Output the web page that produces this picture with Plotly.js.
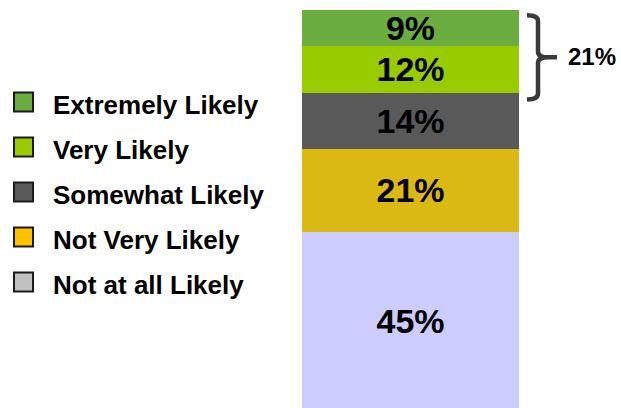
<!DOCTYPE html>
<html><head><meta charset="utf-8">
<script src="https://cdn.plot.ly/plotly-3.0.1.min.js"></script>
<style>html,body{margin:0;padding:0;background:#fff}#chart{width:621px;height:408px}</style>
</head><body><div id="chart"></div>
<script>
// Data (bottom to top of the stack)
const categories = ['Not at all Likely','Not Very Likely','Somewhat Likely','Very Likely','Extremely Likely'];
const values = [45, 21, 14, 12, 9];
const barColors = ['#CCCCFF', '#DBB914', '#595959', '#99CC00', '#6BAD3F'];
const legendColors = ['#C0C0C0', '#FFC000', '#595959', '#99CC00', '#6BAD3F'];
const barCategory = ['Likelihood'];

const W = 621, H = 408;
const px = x => x / W;
const py = y => 1 - y / H;

const traces = categories.map((c, i) => ({
  type: 'bar',
  name: c,
  x: barCategory,
  y: [values[i]],
  width: 1,
  marker: {color: barColors[i], line: {width: 0}},
  text: ['<b>' + values[i] + '%</b>'],
  textposition: 'inside',
  insidetextanchor: 'middle',
  constraintext: 'none',
  textfont: {family: 'Liberation Sans, Arial, sans-serif', size: 34, color: '#000'},
  hoverinfo: 'skip',
  showlegend: false
}));

const total = values.reduce((a, b) => a + b, 0);
const topTwo = values[3] + values[4];

// legend (manual, legend swatches differ from bar colours)
const shapes = [];
const annotations = [];
const legendOrder = [4, 3, 2, 1, 0];
legendOrder.forEach((idx, k) => {
  const cy = 102 + 45 * k;
  shapes.push({type: 'rect', xref: 'paper', yref: 'paper',
    x0: px(14), x1: px(33), y0: py(cy - 9.5), y1: py(cy + 9.5),
    fillcolor: legendColors[idx], line: {color: '#1a1a1a', width: 2}});
  annotations.push({xref: 'paper', yref: 'paper', x: px(51), y: py(cy + 3),
    xanchor: 'left', yanchor: 'middle', showarrow: false,
    text: '<b>' + categories[idx] + '</b>',
    font: {family: 'Liberation Sans, Arial, sans-serif', size: 26, color: '#000'}});
});

// bracket around the top two segments
const xv = px(538), xl = px(527), xr = px(557), xm = px(548);
const yTop = total - 1.3, yBot = total - topTwo - 1.6, yMid = (yTop + yBot) / 2;
const c = 1.5;
const path = `M ${xl},${yTop} Q ${xv},${yTop} ${xv},${yTop - c} L ${xv},${yMid + c} Q ${xv},${yMid} ${xm},${yMid} L ${xr},${yMid} M ${xm},${yMid} Q ${xv},${yMid} ${xv},${yMid - c} L ${xv},${yBot + c} Q ${xv},${yBot} ${xl},${yBot}`;
shapes.push({type: 'path', xref: 'paper', yref: 'y', path: path,
  line: {color: '#3a3a3a', width: 4.5}});
annotations.push({xref: 'paper', yref: 'y', x: px(566), y: yMid + 0.3,
  xanchor: 'left', yanchor: 'middle', showarrow: false,
  text: '<b>' + topTwo + '%</b>',
  font: {family: 'Liberation Sans, Arial, sans-serif', size: 24, color: '#000'}});

const layout = {
  width: W, height: H,
  margin: {l: 0, r: 0, t: 0, b: 0},
  paper_bgcolor: '#fff', plot_bgcolor: '#fff',
  barmode: 'stack', bargap: 0,
  showlegend: false,
  xaxis: {domain: [302 / W, 519 / W], range: [-0.5, 0.5], visible: false, fixedrange: true},
  yaxis: {domain: [0, 1 - 10 / H], range: [0.5, total], visible: false, fixedrange: true},
  shapes: shapes,
  annotations: annotations
};

Plotly.newPlot('chart', traces, layout, {displayModeBar: false, staticPlot: true});
</script>
</body></html>
